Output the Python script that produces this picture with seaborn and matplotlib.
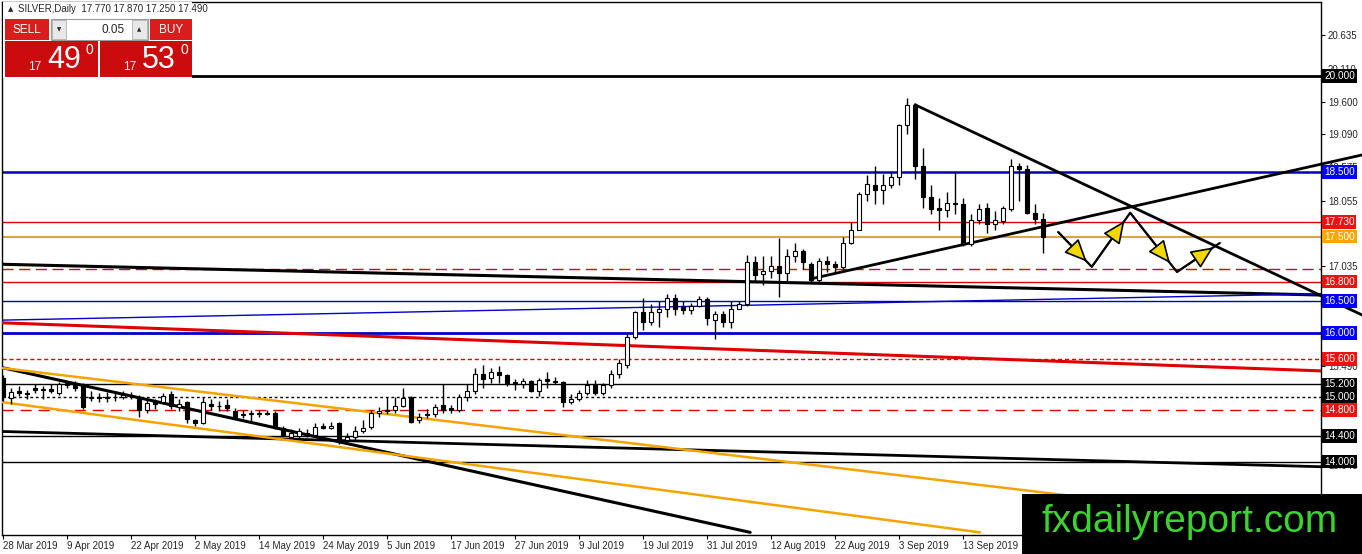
import matplotlib
matplotlib.use('Agg')
import matplotlib.pyplot as plt
import matplotlib.transforms as mtransforms
from matplotlib.patches import Rectangle
import numpy as np
import pandas as pd
import seaborn as sns

# daily SILVER bars from 28 Mar 2019 (one entry per trading day)
opens = [15.30, 14.99, 15.10, 15.06, 15.14, 15.12, 15.13, 15.06, 15.22, 15.20,
         15.20, 14.99, 15.00, 14.99, 15.00, 15.01, 15.03, 15.00, 14.80, 14.92,
         14.92, 15.05, 14.85, 14.93, 14.65, 14.60, 14.90, 14.86, 14.88, 14.79,
         14.72, 14.74, 14.75, 14.74, 14.76, 14.52, 14.39, 14.40, 14.44, 14.42,
         14.55, 14.52, 14.60, 14.33, 14.39, 14.47, 14.54, 14.76, 14.78, 14.80,
         14.87, 15.00, 14.64, 14.73, 14.74, 14.88, 14.83, 14.80, 15.00, 15.10,
         15.37, 15.30, 15.39, 15.34, 15.24, 15.20, 15.25, 15.10, 15.28, 15.26,
         15.24, 14.93, 14.98, 15.07, 15.19, 15.07, 15.19, 15.36, 15.50, 15.94,
         16.32, 16.17, 16.33, 16.38, 16.55, 16.40, 16.36, 16.42, 16.53, 16.20,
         16.30, 16.17, 16.37, 16.45, 17.10, 16.92, 16.97, 17.04, 16.94, 17.20,
         17.27, 17.08, 16.82, 17.12, 17.08, 17.03, 17.40, 17.60, 18.16, 18.30,
         18.22, 18.30, 18.42, 19.23, 19.55, 18.60, 18.12, 17.95, 17.92, 18.02,
         18.00, 17.38, 17.76, 17.95, 17.70, 17.74, 17.93, 18.60, 18.55, 17.87,
         17.77]
highs = [15.35, 15.14, 15.18, 15.12, 15.20, 15.18, 15.20, 15.24, 15.25, 15.25,
         15.22, 15.10, 15.06, 15.08, 15.10, 15.10, 15.08, 15.03, 14.98, 14.98,
         15.06, 15.10, 14.98, 14.95, 14.66, 15.00, 14.97, 14.95, 14.97, 14.83,
         14.80, 14.80, 14.80, 14.80, 14.79, 14.55, 14.50, 14.52, 14.50, 14.60,
         14.60, 14.62, 14.62, 14.45, 14.55, 14.64, 14.80, 14.85, 15.00, 15.00,
         15.15, 15.02, 14.75, 14.82, 14.90, 15.20, 14.88, 15.05, 15.20, 15.45,
         15.51, 15.46, 15.48, 15.36, 15.28, 15.30, 15.27, 15.30, 15.40, 15.32,
         15.25, 15.05, 15.12, 15.27, 15.27, 15.22, 15.42, 15.60, 16.00, 16.35,
         16.55, 16.45, 16.50, 16.60, 16.60, 16.50, 16.47, 16.58, 16.56, 16.35,
         16.35, 16.50, 16.50, 17.22, 17.20, 17.20, 17.20, 17.48, 17.30, 17.40,
         17.30, 17.10, 17.17, 17.20, 17.12, 17.50, 17.72, 18.20, 18.45, 18.60,
         18.48, 18.50, 19.25, 19.65, 19.58, 18.88, 18.30, 18.10, 18.20, 18.50,
         18.10, 17.85, 18.00, 18.02, 17.90, 17.98, 18.70, 18.65, 18.62, 18.00,
         17.87]
lows = [14.95, 14.89, 15.02, 14.97, 15.06, 14.98, 15.06, 15.04, 15.15, 15.10,
        14.82, 14.95, 14.92, 14.93, 14.95, 14.97, 14.98, 14.69, 14.75, 14.82,
        14.90, 14.82, 14.78, 14.60, 14.55, 14.58, 14.80, 14.78, 14.78, 14.68,
        14.68, 14.62, 14.70, 14.72, 14.50, 14.40, 14.37, 14.35, 14.38, 14.40,
        14.50, 14.50, 14.27, 14.29, 14.32, 14.44, 14.50, 14.70, 14.74, 14.75,
        14.85, 14.60, 14.60, 14.68, 14.70, 14.75, 14.75, 14.77, 14.95, 15.05,
        15.15, 15.23, 15.22, 15.17, 15.12, 15.15, 15.08, 15.02, 15.15, 15.20,
        14.85, 14.90, 14.95, 15.03, 15.04, 15.03, 15.15, 15.30, 15.45, 15.90,
        16.05, 16.12, 16.10, 16.25, 16.28, 16.30, 16.30, 16.40, 16.12, 15.90,
        16.10, 16.08, 16.37, 16.42, 16.80, 16.75, 16.85, 16.56, 16.80, 17.10,
        17.00, 16.80, 16.80, 16.95, 16.95, 16.98, 17.38, 17.60, 18.05, 18.00,
        18.00, 18.25, 18.30, 19.10, 18.40, 17.95, 17.85, 17.60, 17.80, 17.85,
        17.35, 17.35, 17.70, 17.55, 17.60, 17.70, 17.90, 18.05, 17.85, 17.70,
        17.25]
closes = [15.00, 15.08, 15.06, 15.05, 15.11, 15.12, 15.10, 15.21, 15.19, 15.15,
          14.85, 15.00, 14.99, 15.00, 15.01, 15.03, 15.02, 14.80, 14.91, 14.90,
          15.02, 14.86, 14.90, 14.66, 14.60, 14.92, 14.86, 14.87, 14.83, 14.70,
          14.74, 14.75, 14.74, 14.76, 14.52, 14.42, 14.45, 14.48, 14.43, 14.54,
          14.52, 14.56, 14.30, 14.39, 14.47, 14.53, 14.76, 14.78, 14.80, 14.87,
          14.99, 14.62, 14.70, 14.74, 14.85, 14.81, 14.80, 15.00, 15.10, 15.37,
          15.29, 15.39, 15.34, 15.22, 15.21, 15.25, 15.10, 15.27, 15.25, 15.24,
          14.93, 14.98, 15.07, 15.19, 15.07, 15.19, 15.36, 15.54, 15.94, 16.32,
          16.17, 16.32, 16.38, 16.55, 16.38, 16.36, 16.42, 16.53, 16.23, 16.30,
          16.17, 16.37, 16.45, 17.10, 16.90, 16.97, 17.04, 16.94, 17.20, 17.27,
          17.10, 16.82, 17.12, 17.08, 17.03, 17.40, 17.60, 18.16, 18.31, 18.22,
          18.30, 18.42, 19.23, 19.55, 18.60, 18.12, 17.93, 17.92, 18.02, 18.00,
          17.38, 17.76, 17.93, 17.70, 17.76, 17.94, 18.60, 18.55, 17.87, 17.78,
          17.49]

date_labels = ['28 Mar 2019', '9 Apr 2019', '22 Apr 2019', '2 May 2019',
               '14 May 2019', '24 May 2019', '5 Jun 2019', '17 Jun 2019',
               '27 Jun 2019', '9 Jul 2019', '19 Jul 2019', '31 Jul 2019',
               '12 Aug 2019', '22 Aug 2019', '3 Sep 2019', '13 Sep 2019']
# scale values still readable beside the coloured price boxes
price_ticks = [20.635, 20.110, 19.600, 19.090, 18.575, 18.055, 17.035,
               15.490, 13.945, 13.430]

# horizontal levels drawn on the chart
level_prices = [20.0, 18.5, 17.73, 17.5, 17.0, 16.8, 16.5, 16.0, 15.6, 15.2, 15.0, 14.8, 14.4, 14.0]
level_colors = ['black', '#0000b4', '#e00000', '#d8a444', '#e00000', '#e00000', '#0000b4',
                '#0000c8', '#e00000', 'black', 'black', '#e00000', 'black', 'black']
level_widths = [2.0, 1.8, 1.0, 1.5, 1.0, 1.0, 1.0, 2.0, 1.0, 1.0, 1.0, 1.0, 1.0, 1.0]
level_dashes = [None, None, None, None, (8, 4), None, None, None, (3, 2), None, (2, 2), (8, 5), None, None]

# price boxes on the right scale
box_prices = [20.0, 18.5, 17.73, 17.5, 16.8, 16.5, 16.0, 15.6, 15.2, 15.0, 14.8, 14.4, 14.0]
box_colors = ['black', '#0000ff', '#f01010', '#ffa500', '#f01010', '#0000ff', '#0000ff',
              '#f01010', 'black', 'black', '#f01010', 'black', 'black']

# trend lines as (bar, price) end points
trend_lines = [
    ([-0.4, 165.0], [17.07, 16.59], 'black', 2.2, True),     # long black, upper
    ([-0.4, 165.0], [14.47, 13.92], 'black', 2.0, True),     # long black, lower
    ([-0.4, 93.4], [15.47, 12.90], 'black', 2.2, True),      # falling channel line
    ([-0.4, 165.0], [15.46, 13.00], '#f5a300', 1.8, True),   # orange channel top
    ([-0.4, 122.1], [14.93, 12.90], '#f5a300', 1.8, True),   # orange channel bottom
    ([-0.4, 165.0], [16.20, 16.61], '#0000c8', 1.0, True),   # thin blue
    ([-0.4, 165.0], [16.16, 15.41], '#e00000', 2.2, True),   # red falling
    ([114.0, 169.9], [19.55, 16.28], 'black', 2.0, False),   # triangle top
    ([100.9, 169.9], [16.84, 18.77], 'black', 2.0, False),   # triangle bottom
]
# projected path (bar, price)
path_bars = [131.9, 136.1, 140.9, 146.75, 152.1]
path_prices = [17.57, 17.03, 17.87, 16.95, 17.40]

W, H = 1362, 554
sns.set_style('white')
plt.rcParams['font.family'] = ['Liberation Sans', 'DejaVu Sans']

fig = plt.figure(figsize=(W / 100, H / 100), dpi=100)
ax = fig.add_axes([2 / W, 19 / H, 1319 / W, 533 / H])

df = pd.DataFrame({'open': opens, 'high': highs, 'low': lows, 'close': closes})
df['bar'] = np.arange(len(df))

# levels
for p, c, lw, d in zip(level_prices, level_colors, level_widths, level_dashes):
    line = ax.axhline(p, color=c, lw=lw, zorder=2)
    if d is not None:
        line.set_dashes(d)

# trend lines
for xs, ys, c, lw, clip in trend_lines:
    sns.lineplot(x=xs, y=ys, ax=ax, color=c, lw=lw, clip_on=clip, zorder=3)

# candles
up = df['close'] >= df['open']
ax.vlines(df['bar'], df['low'], df['high'], color='black', lw=1, zorder=4)
body_lo = df[['open', 'close']].min(axis=1)
body_h = (df['close'] - df['open']).abs().clip(lower=0.012)
ax.bar(df['bar'], body_h, bottom=body_lo, width=0.62,
       color=np.where(up, 'white', 'black'), edgecolor='black', linewidth=0.8, zorder=5)

# projection arrows
ax.plot(path_bars, path_prices, color='black', lw=1.6, zorder=6)
for i in range(len(path_bars) - 1):
    x0, y0 = path_bars[i], path_prices[i]
    x1, y1 = path_bars[i + 1], path_prices[i + 1]
    tip = (x0 + 0.85 * (x1 - x0), y0 + 0.85 * (y1 - y0))
    ax.annotate('', xy=tip, xytext=(x0, y0),
                arrowprops=dict(arrowstyle='-|>,head_length=1.0,head_width=0.45',
                                fc='#f2d700', ec='black', lw=1.2,
                                shrinkA=0, shrinkB=0, mutation_scale=14), zorder=7)

ax.set_xlim(-0.125, 164.75)
ax.set_ylim(12.859, 21.148)

ax.set_xticks(list(range(0, 8 * len(date_labels), 8)))
ax.set_xticklabels(date_labels, ha='left', fontsize=7)
ax.yaxis.tick_right()
ax.set_yticks(price_ticks)
ax.set_yticklabels([f'{v:.3f}' for v in price_ticks], fontsize=7)
ax.tick_params(axis='both', length=3, width=0.8, color='black', direction='out', pad=2)
ax.tick_params(axis='x', bottom=True, pad=1)
ax.tick_params(axis='y', right=True, left=False)
for s in ax.spines.values():
    s.set_color('black')
    s.set_linewidth(1)
ax.set_xlabel('')
ax.set_ylabel('')

trans = mtransforms.blended_transform_factory(ax.transAxes, ax.transData)
for p, bg in zip(box_prices, box_colors):
    ax.text(1.0 + 3 / 1319, p, f'{p:.3f}', transform=trans, ha='left', va='center',
            fontsize=7.2, color='white', clip_on=False, zorder=10,
            bbox=dict(boxstyle='square,pad=0.18', fc=bg, ec='none'))


# header trading panel, drawn in figure pixels
def rect(x0, y0, x1, y1, **kw):
    fig.add_artist(Rectangle((x0 / W, 1 - y1 / H), (x1 - x0) / W, (y1 - y0) / H,
                             transform=fig.transFigure, **kw))


def ftext(x, y, s, **kw):
    fig.text(x / W, 1 - y / H, s, **kw)


rect(3, 2, 192, 78, fc='white', ec='none')
ftext(8, 9, '\u25b2', fontsize=5, va='center', family='DejaVu Sans')
ftext(18, 9, 'SILVER,Daily  17.770 17.870 17.250 17.490', fontsize=7, va='center')
rect(5, 19, 49, 40, fc='#d91d1d', ec='none')
rect(51, 19, 148, 40, fc='white', ec='#9a9a9a', lw=0.8)
rect(52, 20, 66, 39, fc='#e8e8e8', ec='#b0b0b0', lw=0.6)
rect(132, 20, 147, 39, fc='#e8e8e8', ec='#b0b0b0', lw=0.6)
ftext(59, 30, '\u25bc', fontsize=4, ha='center', va='center', family='DejaVu Sans')
ftext(139.5, 30, '\u25b2', fontsize=4, ha='center', va='center', family='DejaVu Sans')
ftext(125, 30, '0.05', fontsize=8.5, ha='right', va='center')
rect(150, 19, 192, 40, fc='#d91d1d', ec='none')
ftext(27, 30, 'SELL', fontsize=8.5, ha='center', va='center', color='white')
ftext(171, 30, 'BUY', fontsize=8.5, ha='center', va='center', color='white')
rect(5, 41, 98, 77, fc='#cc0c0c', ec='none')
rect(100, 41, 192, 77, fc='#cc0c0c', ec='none')
for x0, digits in [(5, '49'), (100, '53')]:
    ftext(x0 + 30, 67, '17', fontsize=8.5, ha='center', va='center', color='white')
    ftext(x0 + 59, 60, digits, fontsize=22, ha='center', va='center', color='white')
    ftext(x0 + 84, 50, '0', fontsize=10, ha='center', va='center', color='white')

# watermark
rect(1022, 494, 1362, 554, fc='black', ec='none', zorder=20)
ftext(1190, 522, 'fxdailyreport.com', fontsize=28, ha='center', va='center',
      color='#3bd42f', zorder=21)

fig.savefig('out.png', dpi=100)
plt.close(fig)
